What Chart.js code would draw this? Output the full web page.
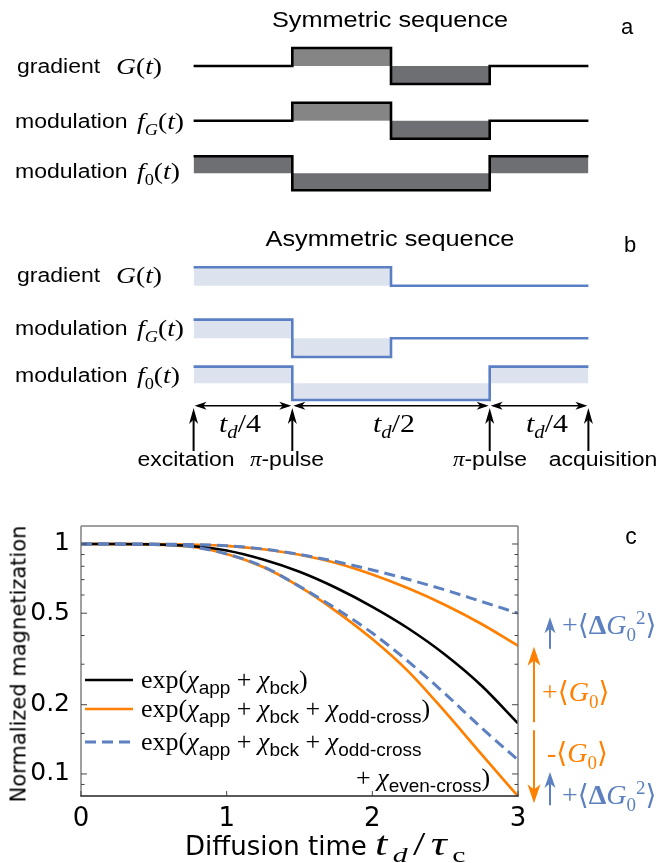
<!DOCTYPE html>
<html lang="en">
<head>
<meta charset="UTF-8">
<title>Sequences and magnetization decay</title>
<script src="https://cdn.jsdelivr.net/npm/chart.js"></script>
<style>
  body { margin: 0; background: #fff; }
  #page { position: relative; width: 660px; height: 863px; overflow: hidden; background: #fff; }
  canvas { position: absolute; left: 0; }
  #seq { top: 0; }
  #mag { top: 470px; }
  .t { position: absolute; white-space: nowrap; line-height: 1; color: #000;
       font-family: 'Liberation Sans', Arial, sans-serif; }
  .l { transform: translate(0, -50%); }
  .c { transform: translate(-50%, -50%); }
  .wide.l { transform: translate(0, -50%) scaleX(1.15); transform-origin: 0 50%; }
  .wide.c { transform: translate(-50%, -50%) scaleX(1.15); }
  .m { font-family: 'Liberation Serif', 'DejaVu Serif', serif; }
  sub, sup { line-height: 0; }
  .lg { font-family: 'Liberation Serif', serif; font-size: 26px; }
  .lg sub { font-family: 'Liberation Sans', sans-serif; font-size: 19px; vertical-align: -6px; }
  .dj { font-family: 'DejaVu Sans', sans-serif; }
  .org { color: #ff8000; }
  .blu { color: #5c80c0; }
</style>
</head>
<body>
<div id="page">
  <canvas id="seq" width="660" height="470"></canvas>
  <canvas id="mag" width="660" height="393"></canvas>

  <!-- panel a -->
  <div class="t c wide" style="left:390px;top:20px;font-size:22px">Symmetric sequence</div>
  <div class="t c" style="left:627px;top:27px;font-size:22px">a</div>
  <div class="t l wide" style="left:17px;top:66px;font-size:20px">gradient</div>
  <div class="t l wide m" style="left:116px;top:66px;font-size:24px"><i>G</i>(<i>t</i>)</div>
  <div class="t l wide" style="left:15px;top:121px;font-size:20px">modulation</div>
  <div class="t l wide m" style="left:137px;top:121px;font-size:24px"><i>f</i><sub style="font-size:16px"><i>G</i></sub>(<i>t</i>)</div>
  <div class="t l wide" style="left:15px;top:171px;font-size:20px">modulation</div>
  <div class="t l wide m" style="left:137px;top:171px;font-size:24px"><i>f</i><sub style="font-size:16px">0</sub>(<i>t</i>)</div>

  <!-- panel b -->
  <div class="t c wide" style="left:390px;top:239px;font-size:22px">Asymmetric sequence</div>
  <div class="t c" style="left:630px;top:245px;font-size:22px">b</div>
  <div class="t l wide" style="left:17px;top:275px;font-size:20px">gradient</div>
  <div class="t l wide m" style="left:116px;top:275px;font-size:24px"><i>G</i>(<i>t</i>)</div>
  <div class="t l wide" style="left:15px;top:328px;font-size:20px">modulation</div>
  <div class="t l wide m" style="left:137px;top:328px;font-size:24px"><i>f</i><sub style="font-size:16px"><i>G</i></sub>(<i>t</i>)</div>
  <div class="t l wide" style="left:15px;top:375px;font-size:20px">modulation</div>
  <div class="t l wide m" style="left:137px;top:375px;font-size:24px"><i>f</i><sub style="font-size:16px">0</sub>(<i>t</i>)</div>

  <div class="t c wide m" style="left:240px;top:424px;font-size:26px"><i>t</i><sub style="font-size:18px"><i>d</i></sub>/4</div>
  <div class="t c wide m" style="left:394px;top:424px;font-size:26px"><i>t</i><sub style="font-size:18px"><i>d</i></sub>/2</div>
  <div class="t c wide m" style="left:547px;top:424px;font-size:26px"><i>t</i><sub style="font-size:18px"><i>d</i></sub>/4</div>
  <div class="t c wide" style="left:186px;top:459px;font-size:20px">excitation</div>
  <div class="t c wide" style="left:287px;top:459px;font-size:20px"><span class="m"><i>π</i></span>-pulse</div>
  <div class="t c wide" style="left:490px;top:459px;font-size:20px"><span class="m"><i>π</i></span>-pulse</div>
  <div class="t c wide" style="left:603px;top:459px;font-size:20px">acquisition</div>

  <!-- panel c -->
  <div class="t c" style="left:631px;top:536px;font-size:23px">c</div>
  <div class="t dj" style="left:19px;top:664px;font-size:21px;transform:translate(-50%,-50%) rotate(-90deg)">Normalized magnetization</div>
  <div class="t l dj" style="left:185px;top:844px;font-size:26px">Diffusion time <span class="m" style="display:inline-block;font-size:33px;letter-spacing:4px;transform:scaleX(1.35);transform-origin:0 50%"><i>t</i><sub style="font-size:22px"><i>d</i></sub>/<i>τ</i><sub style="font-size:22px">c</sub></span></div>

  <div class="t l lg" style="left:141px;top:680px">exp(<i>χ</i><sub>app</sub> + <i>χ</i><sub>bck</sub>)</div>
  <div class="t l lg" style="left:141px;top:709px">exp(<i>χ</i><sub>app</sub> + <i>χ</i><sub>bck</sub> + <i>χ</i><sub>odd-cross</sub>)</div>
  <div class="t l lg" style="left:141px;top:742px">exp(<i>χ</i><sub>app</sub> + <i>χ</i><sub>bck</sub> + <i>χ</i><sub>odd-cross</sub></div>
  <div class="t l lg" style="left:356px;top:778px">+ <i>χ</i><sub>even-cross</sub>)</div>

  <div class="t l m blu" style="left:562px;top:625px;font-size:28px">+⟨<b>Δ</b><i>G</i><sub style="font-size:19px">0</sub><sup style="font-size:19px">2</sup>⟩</div>
  <div class="t l m org" style="left:542px;top:692px;font-size:28px">+⟨<i>G</i><sub style="font-size:19px">0</sub>⟩</div>
  <div class="t l m org" style="left:547px;top:753px;font-size:28px">-⟨<i>G</i><sub style="font-size:19px">0</sub>⟩</div>
  <div class="t l m blu" style="left:562px;top:795px;font-size:28px">+⟨<b>Δ</b><i>G</i><sub style="font-size:19px">0</sub><sup style="font-size:19px">2</sup>⟩</div>
</div>

<script>
  // ---- pulse sequences (time in units of t_d, one level per quarter) ----
  const seqT = [0, 0.25, 0.5, 0.75, 1];
  const pulseT = [0, 0.25, 0.75, 1];   // excitation, pi, pi, acquisition
  const symG = [0, 1, -1, 0];
  const symFG = [0, 1, -1, 0];
  const symF0 = [1, -1, -1, 1];
  const asymG = [1, 1, 0, 0];
  const asymFG = [1, -1, 0, 0];
  const asymF0 = [1, -1, -1, 1];

  // ---- normalized magnetization vs t_d / tau_c ----
  const tGrid = [0, 0.25, 0.5, 0.75, 1, 1.25, 1.5, 1.75, 2, 2.25, 2.5, 2.75, 3];
  const magBck = [1, 1.0, 0.996, 0.980, 0.937, 0.856, 0.757, 0.645, 0.533, 0.428, 0.330, 0.242, 0.166];
  const magOddUp = [1, 1.0, 0.999, 0.994, 0.982, 0.949, 0.898, 0.827, 0.737, 0.640, 0.543, 0.449, 0.361];
  const magOddDn = [1, 0.999, 0.994, 0.975, 0.905, 0.794, 0.653, 0.511, 0.386, 0.278, 0.186, 0.1216, 0.080];
  const magEvenUp = [1, 1.0, 0.999, 0.994, 0.983, 0.951, 0.900, 0.839, 0.771, 0.701, 0.631, 0.562, 0.500];
  const magEvenDn = [1, 0.999, 0.994, 0.975, 0.905, 0.798, 0.654, 0.524, 0.410, 0.307, 0.223, 0.1585, 0.115];
  const xTicks = [0, 1, 2, 3];
  const yMajor = [0.1, 0.2, 0.5, 1];
  const yMinor = [0.09, 0.15, 0.3, 0.4, 0.6, 0.7, 0.8, 0.9];

  const ORANGE = '#ff8000';
  const BLUE = '#5c80c0';

  function seta(ctx, x1, y1, x2, y2) {
    ctx.beginPath(); ctx.moveTo(x1, y1); ctx.lineTo(x2, y2); ctx.stroke();
  }

  // arrow head with its tip at (x, y), pointing along angle ang
  function cabeca(ctx, x, y, ang, len, wid) {
    ctx.save();
    ctx.translate(x, y);
    ctx.rotate(ang);
    ctx.beginPath();
    ctx.moveTo(0, 0);
    ctx.lineTo(-len, -wid / 2);
    ctx.lineTo(-len * 0.72, 0);
    ctx.lineTo(-len, wid / 2);
    ctx.closePath();
    ctx.fill();
    ctx.restore();
  }

  // rows of the sequence diagram: baseline and amplitude in canvas units
  const linhas = [
    { lev: symG,   base: 66,    amp: 18,   cor: '#000', acima: '#858585', abaixo: '#6e6f72' },
    { lev: symFG,  base: 120.7, amp: 18,   cor: '#000', acima: '#858585', abaixo: '#6e6f72' },
    { lev: symF0,  base: 173.3, amp: 17,   cor: '#000', acima: '#6e6f72', abaixo: '#6e6f72' },
    { lev: asymG,  base: 285.7, amp: 18.4, cor: '#5b7fc4', acima: '#dde3ee', abaixo: '#dde3ee' },
    { lev: asymFG, base: 338.3, amp: 18.7, cor: '#5b7fc4', acima: '#dde3ee', abaixo: '#dde3ee' },
    { lev: asymF0, base: 383.3, amp: 16.7, cor: '#5b7fc4', acima: '#dde3ee', abaixo: '#dde3ee' }
  ];

  const marcasSeq = {
    id: 'marcasSeq',
    afterDatasetsDraw(chart) {
      const ctx = chart.ctx;
      const x = chart.scales.x;
      const px = pulseT.map(t => x.getPixelForValue(t));
      ctx.save();
      ctx.strokeStyle = '#000';
      ctx.fillStyle = '#000';
      ctx.lineWidth = 1.6;
      const yd = 405.7;
      for (let i = 0; i < px.length - 1; i++) {
        seta(ctx, px[i] + 4, yd, px[i + 1] - 4, yd);
        cabeca(ctx, px[i] + 1, yd, Math.PI, 12, 8);
        cabeca(ctx, px[i + 1] - 1, yd, 0, 12, 8);
      }
      ctx.lineWidth = 2;
      px.forEach(p => {
        seta(ctx, p, 451, p, 416);
        cabeca(ctx, p, 408, -Math.PI / 2, 16, 9);
      });
      ctx.restore();
    }
  };

  new Chart(document.getElementById('seq'), {
    type: 'line',
    data: {
      datasets: linhas.map(r => ({
        data: seqT.map((t, i) => ({ x: t, y: r.base - r.amp * r.lev[Math.min(i, r.lev.length - 1)] })),
        stepped: 'before',
        borderColor: r.cor,
        borderWidth: 2.6,
        borderJoinStyle: 'miter',
        borderCapStyle: 'butt',
        pointRadius: 0,
        fill: { target: { value: r.base }, above: r.acima, below: r.abaixo }
      }))
    },
    options: {
      responsive: false,
      animation: false,
      events: [],
      layout: { padding: 0 },
      scales: {
        x: { type: 'linear', display: false, min: -0.49037, max: 1.18136 },
        y: { type: 'linear', display: false, min: 0, max: 470, reverse: true }
      },
      plugins: { legend: { display: false }, tooltip: { enabled: false } }
    },
    plugins: [marcasSeq]
  });

  const pts = arr => tGrid.map((t, i) => ({ x: t, y: arr[i] }));

  const moldura = {
    id: 'moldura',
    afterDatasetsDraw(chart) {
      const { ctx, chartArea: a } = chart;
      const x = chart.scales.x, y = chart.scales.y;
      ctx.save();
      // frame
      ctx.lineWidth = 1.5;
      ctx.strokeStyle = '#808080';
      seta(ctx, a.left, a.bottom, a.left, a.top);
      seta(ctx, a.left, a.top, a.right, a.top);
      seta(ctx, a.right, a.top, a.right, a.bottom);
      ctx.strokeStyle = '#222';
      seta(ctx, a.left - 0.75, a.bottom, a.right + 0.75, a.bottom);
      // ticks inside
      ctx.lineWidth = 1;
      ctx.strokeStyle = '#444';
      yMajor.forEach(v => {
        const p = y.getPixelForValue(v);
        seta(ctx, a.left, p, a.left + 6, p);
        seta(ctx, a.right, p, a.right - 6, p);
      });
      yMinor.forEach(v => {
        const p = y.getPixelForValue(v);
        seta(ctx, a.left, p, a.left + 3.5, p);
        seta(ctx, a.right, p, a.right - 3.5, p);
      });
      xTicks.forEach(v => {
        const p = x.getPixelForValue(v);
        seta(ctx, p, a.bottom, p, a.bottom - 5);
      });

      // legend samples
      const ds = chart.data.datasets;
      const amostras = [[ds[2], 210], [ds[3], 239], [ds[0], 272]];
      amostras.forEach(([d, yy]) => {
        ctx.strokeStyle = d.borderColor;
        ctx.lineWidth = d.borderWidth;
        ctx.setLineDash(d.borderDash || []);
        seta(ctx, 85, yy, 133, yy);
      });
      ctx.setLineDash([]);

      // arrows at the right: odd and even cross terms at t = 3
      const fim = arr => y.getPixelForValue(arr[arr.length - 1]);
      const xo = a.right + 16, xb = a.right + 32;
      ctx.lineWidth = 2;
      ctx.strokeStyle = ORANGE; ctx.fillStyle = ORANGE;
      const yb = fim(magBck);
      const yu = fim(magOddUp) + 1, ydn = fim(magOddDn) + 7;
      seta(ctx, xo, yb - 1, xo, yu + 12);
      cabeca(ctx, xo, yu, -Math.PI / 2, 19, 13);
      seta(ctx, xo, yb + 7, xo, ydn - 12);
      cabeca(ctx, xo, ydn, Math.PI / 2, 19, 13);

      ctx.strokeStyle = BLUE; ctx.fillStyle = BLUE;
      const b1 = fim(magOddUp) + 3, t1 = fim(magEvenUp) + 4;
      seta(ctx, xb, b1, xb, t1 + 10);
      cabeca(ctx, xb, t1, -Math.PI / 2, 16, 11);
      const b2 = fim(magOddDn) + 9, t2 = fim(magEvenDn) + 12;
      seta(ctx, xb, b2, xb, t2 + 10);
      cabeca(ctx, xb, t2, -Math.PI / 2, 16, 11);
      ctx.restore();
    }
  };

  new Chart(document.getElementById('mag'), {
    type: 'line',
    data: {
      datasets: [
        { data: pts(magEvenUp), borderColor: BLUE, borderWidth: 3, borderDash: [11, 6], order: 0 },
        { data: pts(magEvenDn), borderColor: BLUE, borderWidth: 3, borderDash: [11, 6], order: 0 },
        { data: pts(magBck), borderColor: '#000', borderWidth: 2.6, order: 1 },
        { data: pts(magOddUp), borderColor: ORANGE, borderWidth: 2.7, order: 2 },
        { data: pts(magOddDn), borderColor: ORANGE, borderWidth: 2.7, order: 2 }
      ].map(d => Object.assign(d, { pointRadius: 0, fill: false, cubicInterpolationMode: 'monotone' }))
    },
    options: {
      responsive: false,
      animation: false,
      events: [],
      layout: { padding: { top: 56, right: 142, left: 0, bottom: 0 } },
      scales: {
        x: {
          type: 'linear', min: 0, max: 3,
          afterBuildTicks: ax => { ax.ticks = xTicks.map(v => ({ value: v })); },
          afterFit: ax => { ax.height = 67; },
          grid: { display: false },
          border: { display: false },
          ticks: { color: '#000', font: { family: 'DejaVu Sans', size: 26 }, padding: 0, maxRotation: 0, autoSkip: false }
        },
        y: {
          type: 'logarithmic', min: 0.08018, max: 1.1975,
          afterBuildTicks: ax => { ax.ticks = yMajor.map(v => ({ value: v })); },
          afterFit: ax => { ax.width = 81; },
          grid: { display: false },
          border: { display: false },
          ticks: { color: '#000', font: { family: 'DejaVu Sans', size: 25 }, padding: 3, autoSkip: false,
                   callback: v => String(v) }
        }
      },
      plugins: { legend: { display: false }, tooltip: { enabled: false } }
    },
    plugins: [moldura]
  });
</script>
</body>
</html>
